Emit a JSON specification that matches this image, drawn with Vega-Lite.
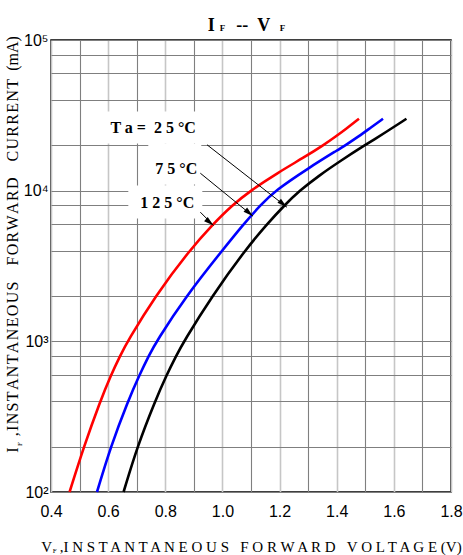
{
  "$schema": "https://vega.github.io/schema/vega-lite/v6.json",
  "width": 400,
  "height": 452,
  "autosize": {"type": "none"},
  "padding": {"left": 51, "top": 40, "right": 12, "bottom": 63},
  "background": "white",
  "config": {
    "view": {"stroke": "#000000", "strokeWidth": 1.5},
    "font": "Liberation Serif"
  },
  "title": {
    "text": "I\u2003\u2009--\u2002V",
    "font": "Liberation Serif",
    "fontSize": 18,
    "fontWeight": "bold",
    "anchor": "middle",
    "offset": 8,
    "dy": 19,
    "dx": -12,
    "color": "#000000"
  },
  "datasets": {
    "curves": [
      {"s": "25", "v": 0.465, "i": 100},
      {"s": "25", "v": 0.515, "i": 200},
      {"s": "25", "v": 0.572, "i": 400},
      {"s": "25", "v": 0.6105, "i": 600},
      {"s": "25", "v": 0.6417, "i": 800},
      {"s": "25", "v": 0.668, "i": 1000},
      {"s": "25", "v": 0.765, "i": 2000},
      {"s": "25", "v": 0.884, "i": 4000},
      {"s": "25", "v": 0.967, "i": 6000},
      {"s": "25", "v": 1.034, "i": 8000},
      {"s": "25", "v": 1.098, "i": 10000},
      {"s": "25", "v": 1.195, "i": 13200},
      {"s": "25", "v": 1.285, "i": 16600},
      {"s": "25", "v": 1.353, "i": 20000},
      {"s": "25", "v": 1.397, "i": 22900},
      {"s": "25", "v": 1.436, "i": 26000},
      {"s": "25", "v": 1.478, "i": 30000},
      {"s": "75", "v": 0.561, "i": 100},
      {"s": "75", "v": 0.609, "i": 200},
      {"s": "75", "v": 0.669, "i": 400},
      {"s": "75", "v": 0.710, "i": 600},
      {"s": "75", "v": 0.742, "i": 800},
      {"s": "75", "v": 0.769, "i": 1000},
      {"s": "75", "v": 0.873, "i": 2000},
      {"s": "75", "v": 0.999, "i": 4000},
      {"s": "75", "v": 1.074, "i": 6000},
      {"s": "75", "v": 1.133, "i": 8000},
      {"s": "75", "v": 1.184, "i": 10000},
      {"s": "75", "v": 1.303, "i": 14200},
      {"s": "75", "v": 1.405, "i": 18700},
      {"s": "75", "v": 1.43, "i": 20000},
      {"s": "75", "v": 1.477, "i": 22900},
      {"s": "75", "v": 1.52, "i": 26300},
      {"s": "75", "v": 1.562, "i": 30000},
      {"s": "125", "v": 0.654, "i": 100},
      {"s": "125", "v": 0.702, "i": 200},
      {"s": "125", "v": 0.764, "i": 400},
      {"s": "125", "v": 0.805, "i": 600},
      {"s": "125", "v": 0.838, "i": 800},
      {"s": "125", "v": 0.865, "i": 1000},
      {"s": "125", "v": 0.964, "i": 2000},
      {"s": "125", "v": 1.078, "i": 4000},
      {"s": "125", "v": 1.156, "i": 6000},
      {"s": "125", "v": 1.217, "i": 8000},
      {"s": "125", "v": 1.270, "i": 10000},
      {"s": "125", "v": 1.338, "i": 12590},
      {"s": "125", "v": 1.415, "i": 15850},
      {"s": "125", "v": 1.497, "i": 19950},
      {"s": "125", "v": 1.565, "i": 23990},
      {"s": "125", "v": 1.644, "i": 30000}
    ],
    "boxes": [
      {"v": 0.583, "v2": 0.937, "i": 33540, "i2": 20570},
      {"v": 0.7405, "v2": 0.926, "i": 20570, "i2": 10990},
      {"v": 0.6706, "v2": 0.9296, "i": 10830, "i2": 6540}
    ],
    "labels": [
      {"t": "T a =\u00a0 2 5 °C", "v": 0.608, "i": 25900},
      {"t": "7 5 °C", "v": 0.765, "i": 14000},
      {"t": "1 2 5 °C", "v": 0.7125, "i": 8220}
    ],
    "arrows": [
      {"v": 0.946, "i": 20170, "v2": 1.2255, "i2": 7770},
      {"v": 0.9226, "i": 13060, "v2": 1.107, "i2": 6775},
      {"v": 0.9226, "i": 7200, "v2": 0.969, "i2": 5875}
    ],
    "subs": [
      {"t": "F", "v": 1.0, "i": 120000},
      {"t": "F", "v": 1.21, "i": 120000}
    ],
    "axissubs": [
      {"t": "F", "v": 0.4133, "i": 40.6}
    ],
    "ysubs": [
      {"t": "F", "v": 0.2908, "i": 208}
    ]
  },
  "encoding": {
    "x": {
      "field": "v",
      "type": "quantitative",
      "scale": {"domain": [0.4, 1.8], "nice": false, "zero": false},
      "axis": {
        "title": "V\u00a0\u00a0,I N S T A N T A N E O U S\u00a0\u00a0\u00a0F O R W A R D\u00a0\u00a0\u00a0V O L T A G E (V)",
        "titleFont": "Liberation Serif",
        "titleFontSize": 15,
        "titleFontWeight": "normal",
        "titleColor": "#000000",
        "titlePadding": 20,
        "values": [0.4, 0.5, 0.6, 0.7, 0.8, 0.9, 1.0, 1.1, 1.2, 1.3, 1.4, 1.5, 1.6, 1.7, 1.8],
        "labelExpr": "round(datum.value*10) % 2 == 0 ? format(datum.value, '.1f') : ''",
        "labelFont": "Liberation Sans",
        "labelFontSize": 16,
        "labelColor": "#000000",
        "labelPadding": 11,
        "labelOverlap": false,
        "labelFlush": false,
        "labelBound": false,
        "ticks": false,
        "domain": false,
        "grid": true,
        "gridColor": {"condition": {"test": "round(datum.value*10) % 2 == 0", "value": "#c6c6c6"}, "value": "#7f7f7f"},
        "gridWidth": {"condition": {"test": "round(datum.value*10) % 2 == 0", "value": 1.6}, "value": 1.1},
        "gridOpacity": 1
      }
    },
    "y": {
      "field": "i",
      "type": "quantitative",
      "scale": {"type": "log", "domain": [100, 100000], "nice": false},
      "axis": {
        "title": "I\u2002\u2009,\u200aI\u200aN\u200aS\u200aT\u200aA\u200aN\u200aT\u200aA\u200aN\u200aE\u200aO\u200aU\u200aS\u2002\u2002F\u200aO\u200aR\u200aW\u200aA\u200aR\u200aD\u2002\u2002C\u200aU\u200aR\u200aR\u200aE\u200aN\u200aT\u2002(mA)",
        "titleFont": "Liberation Serif",
        "titleFontSize": 16,
        "titleFontWeight": "normal",
        "titleColor": "#000000",
        "titlePadding": 3,
        "titleY": 204,
        "values": [100, 200, 400, 600, 800, 1000, 2000, 4000, 6000, 8000, 10000, 20000, 40000, 60000, 80000, 100000],
        "labelExpr": "datum.value == 100 ? '10²' : datum.value == 1000 ? '10³' : datum.value == 10000 ? '10⁴' : datum.value == 100000 ? '10⁵' : ''",
        "labelFont": "Liberation Sans",
        "labelFontSize": 16,
        "labelColor": "#000000",
        "labelPadding": 3,
        "labelOverlap": false,
        "labelFlush": false,
        "labelBound": false,
        "ticks": false,
        "domain": false,
        "grid": true,
        "gridColor": "#7f7f7f",
        "gridWidth": 1.2,
        "gridOpacity": 1
      }
    }
  },
  "layer": [
    {
      "data": {"name": "boxes"},
      "mark": {"type": "rect", "fill": "white", "stroke": null},
      "encoding": {
        "x2": {"field": "v2"},
        "y2": {"field": "i2"}
      }
    },
    {
      "data": {"name": "curves"},
      "mark": {"type": "line", "strokeWidth": 2.6, "interpolate": "basis"},
      "encoding": {
        "color": {
          "field": "s",
          "type": "nominal",
          "scale": {"domain": ["25", "75", "125"], "range": ["#ff0000", "#0000ff", "#000000"]},
          "legend": null
        },
        "order": {"field": "v", "type": "quantitative"}
      }
    },
    {
      "data": {"name": "arrows"},
      "mark": {"type": "rule", "color": "#000000", "strokeWidth": 1},
      "encoding": {
        "x2": {"field": "v2"},
        "y2": {"field": "i2"}
      }
    },
    {
      "data": {"name": "arrows"},
      "mark": {"type": "point", "shape": "M0,0L-2,-0.55L-2,0.55Z", "filled": true, "color": "#000000", "size": 100, "angle": 40, "opacity": 1},
      "encoding": {
        "x": {"field": "v2", "type": "quantitative"},
        "y": {"field": "i2", "type": "quantitative"}
      }
    },
    {
      "data": {"name": "labels"},
      "mark": {"type": "text", "align": "left", "baseline": "middle", "font": "Liberation Serif", "fontWeight": "bold", "fontSize": 16, "color": "#000000"},
      "encoding": {"text": {"field": "t"}}
    },
    {
      "data": {"name": "subs"},
      "mark": {"type": "text", "clip": false, "font": "Liberation Serif", "fontWeight": "bold", "fontSize": 9, "color": "#000000"},
      "encoding": {"text": {"field": "t"}}
    },
    {
      "data": {"name": "axissubs"},
      "mark": {"type": "text", "clip": false, "font": "Liberation Serif", "fontSize": 7, "color": "#000000"},
      "encoding": {"text": {"field": "t"}}
    },
    {
      "data": {"name": "ysubs"},
      "mark": {"type": "text", "clip": false, "font": "Liberation Serif", "fontSize": 7, "angle": 270, "color": "#000000"},
      "encoding": {"text": {"field": "t"}}
    }
  ]
}
